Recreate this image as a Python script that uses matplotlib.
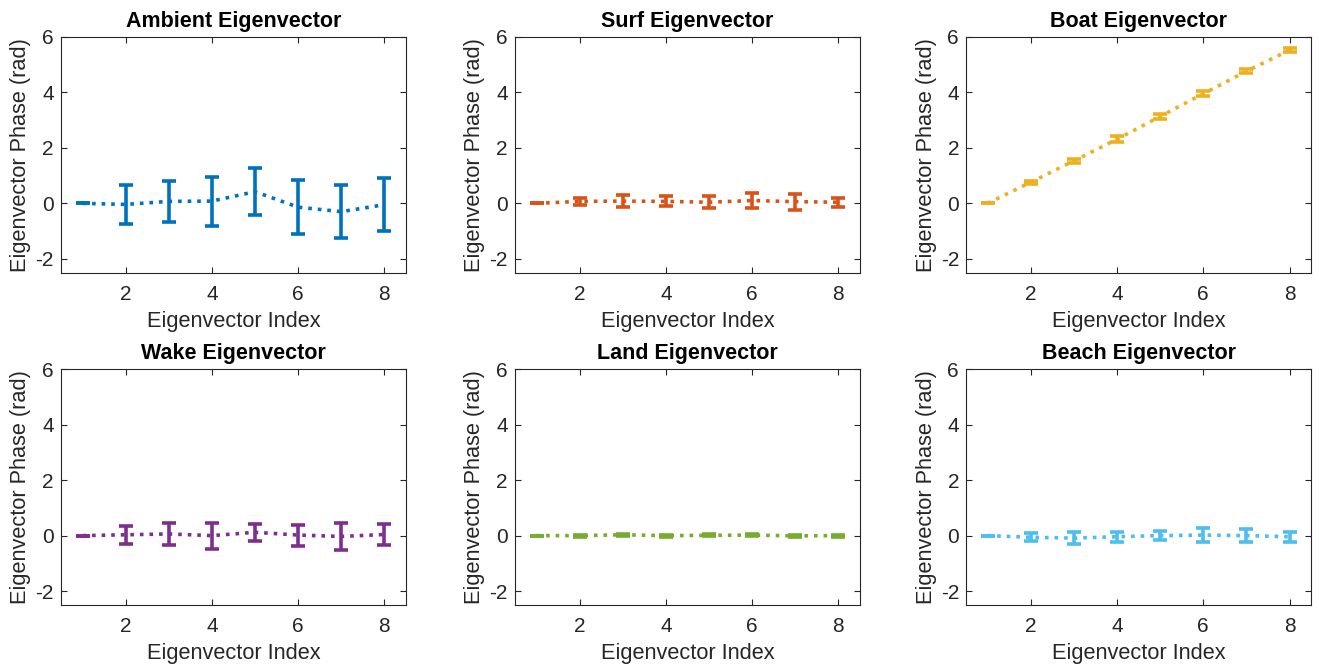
import numpy as np
import matplotlib.pyplot as plt

plt.rcParams['font.family'] = ['Liberation Sans', 'DejaVu Sans']
plt.rcParams['axes.unicode_minus'] = False

# indice de autovector
indices = [1, 2, 3, 4, 5, 6, 7, 8]

titulos = ['Ambient Eigenvector', 'Surf Eigenvector', 'Boat Eigenvector',
           'Wake Eigenvector', 'Land Eigenvector', 'Beach Eigenvector']

# fase media y desviacion (rad)
ambient_mean = [0, -0.04, 0.07, 0.08, 0.42, -0.14, -0.30, -0.05]
ambient_err = [0, 0.70, 0.73, 0.88, 0.85, 0.98, 0.95, 0.96]

surf_mean = [0, 0.07, 0.08, 0.07, 0.04, 0.10, 0.06, 0.04]
surf_err = [0, 0.12, 0.22, 0.18, 0.21, 0.27, 0.29, 0.16]

boat_mean = [0, 0.76, 1.53, 2.31, 3.13, 3.95, 4.76, 5.52]
boat_err = [0, 0.06, 0.08, 0.10, 0.09, 0.09, 0.07, 0.07]

wake_mean = [0, 0.03, 0.06, 0.0, 0.12, 0.02, -0.03, 0.04]
wake_err = [0, 0.33, 0.41, 0.47, 0.31, 0.38, 0.49, 0.37]

land_mean = [0, 0.0, 0.03, 0.0, 0.01, 0.02, -0.01, 0.0]
land_err = [0, 0.04, 0.04, 0.04, 0.04, 0.04, 0.04, 0.04]

beach_mean = [0, -0.06, -0.09, -0.04, 0.0, 0.02, 0.0, -0.04]
beach_err = [0, 0.14, 0.21, 0.18, 0.16, 0.24, 0.24, 0.18]

medias = [ambient_mean, surf_mean, boat_mean, wake_mean, land_mean, beach_mean]
errores = [ambient_err, surf_err, boat_err, wake_err, land_err, beach_err]

colores = ['#0072BD', '#D95319', '#EDB120', '#7E2F8E', '#77AC30', '#4DBEEE']

fig = plt.figure(figsize=(13.19, 6.69), dpi=100)

# posiciones de los ejes (fraccion de la figura)
lefts = [0.0462, 0.3904, 0.7324]
bottoms = [0.5924, 0.0957]
ancho = 0.2616
alto = 0.3525

gris = '#262626'

for k in range(6):
    fila, col = divmod(k, 3)
    ax = fig.add_axes([lefts[col], bottoms[fila], ancho, alto])
    ax.errorbar(indices, medias[k], yerr=errores[k], color=colores[k],
                linestyle=':', linewidth=2.6, elinewidth=2.6, capsize=5,
                capthick=2.6)
    ax.set_xlim(0.5, 8.5)
    ax.set_ylim(-2.5, 6)
    ax.set_xticks([2, 4, 6, 8])
    ax.set_yticks([-2, 0, 2, 4, 6])
    ax.tick_params(direction='in', top=True, right=True, labelsize=15,
                   colors=gris, length=4, width=0.8)
    ax.tick_params(axis='x', pad=9)
    ax.tick_params(axis='y', pad=5)
    for s in ax.spines.values():
        s.set_color(gris)
        s.set_linewidth(0.8)
    ax.set_title(titulos[k], fontsize=15.5, fontweight='bold', pad=7)
    ax.set_xlabel('Eigenvector Index', fontsize=15.7, color=gris, labelpad=5)
    ax.set_ylabel('Eigenvector Phase (rad)', fontsize=15.7, color=gris, labelpad=3)

plt.savefig('out.png', dpi=100)
